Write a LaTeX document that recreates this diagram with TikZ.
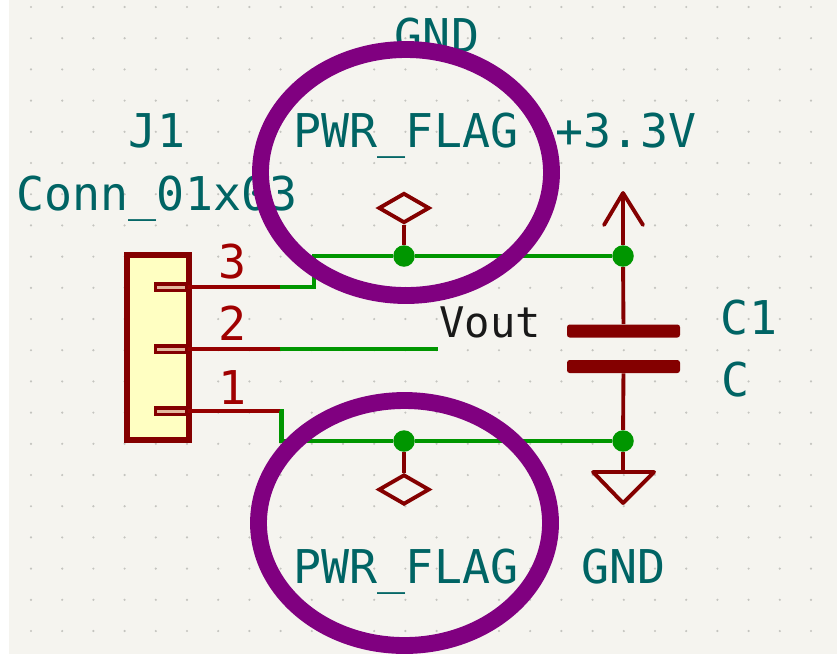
\documentclass[tikz,border=0pt]{standalone}
\usepackage{fontspec}
\setmonofont{DejaVu Sans Mono}
\usetikzlibrary{shapes.geometric}
\definecolor{sheet}{HTML}{F5F4EF}
\definecolor{griddot}{HTML}{C4C4BF}
\definecolor{symbolred}{HTML}{840000}
\definecolor{pinred}{HTML}{A00000}
\definecolor{wiregreen}{HTML}{009600}
\definecolor{fieldteal}{HTML}{006464}
\definecolor{bodyfill}{HTML}{FFFFC2}
\definecolor{ringpurple}{HTML}{800080}
\tikzset{
  wire/.style={draw=wiregreen, line width=2.3pt},
  symline/.style={draw=symbolred, line width=2.2pt},
  junction/.style={circle, fill=wiregreen, inner sep=0pt, minimum size=0.43cm},
  flagmark/.style={diamond, symline, inner sep=0pt, shape aspect=1.7, minimum width=1.02cm, minimum height=0.6cm},
  plate/.style={rectangle, fill=symbolred, rounded corners=1.5pt, inner sep=0pt, minimum width=2.26cm, minimum height=0.26cm},
  field/.style={text=fieldteal, inner sep=0pt, anchor=base, font=\ttfamily\fontsize{26.5}{26.5}\selectfont},
  pinnum/.style={text=pinred, inner sep=0pt, anchor=base, font=\ttfamily\fontsize{26.5}{26.5}\selectfont},
  ring/.style={draw=ringpurple, line width=9.6pt},
}
\begin{document}
\begin{tikzpicture}[x=0.02cm,y=-0.02cm]
\useasboundingbox (0,0) rectangle (837,654);

% sheet and grid
\fill[white] (0,0) rectangle (9,654);
\fill[sheet] (9,0) rectangle (837,654);
\foreach \k in {0,...,25}
  \foreach \l in {0,...,20}
    \fill[griddot] ({31+31.2*\k},{7+31.2*\l}) circle (1.2);

% connector body
\node[rectangle, draw=symbolred, fill=bodyfill, line width=3.4pt, inner sep=0pt,
  minimum width=1.24cm, minimum height=3.7cm] (body) at (158,347.5) {};

% pins
\foreach \n/\y in {3/287,2/349,1/411} {
  \node[rectangle, draw=symbolred, fill=bodyfill!60!pinred!70!white, line width=2pt, inner sep=0pt,
    minimum width=0.62cm, minimum height=0.13cm] (pin\n) at (171,\y) {};
  \coordinate (end\n) at (280,\y);
  \draw[draw=pinred!60!symbolred, line width=2.3pt] (pin\n.east) -- (end\n);
}
\node[pinnum] (num3) at (233,278) {3};
\node[pinnum] (num2) at (233,340) {2};
\node[pinnum] (num1) at (233,404) {1};

% junctions and free ends of the wires
\node[junction] (jflagup) at (404,256) {};
\node[junction] (jpwr) at (623,256) {};
\node[junction] (jflagdown) at (404,441) {};
\node[junction] (jgnd) at (623,441) {};
\coordinate (cornerup) at (314,256);
\coordinate (cornerdown) at (281.5,441);
\coordinate (voutend) at (438,349);

% wires
\draw[wire] (end3) -| (cornerup) -- (jflagup) -- (jpwr);
\draw[wire] (end2) -- (voutend);
\draw[wire] (end1) -- ++(1.5,0) -- (cornerdown) -- (jflagdown) -- (jgnd);

% power flags
\node[flagmark] (flagup) at (404,208) {};
\node[flagmark] (flagdown) at (404,489.5) {};
\draw[symline] (jflagup) -- (flagup);
\draw[symline] (jflagdown) -- (flagdown);

% capacitor
\node[plate] (plateup) at (623.5,331) {};
\node[plate] (platedown) at (623.5,366.5) {};
\draw[symline] (jpwr) -- (plateup);
\draw[symline] (platedown) -- (jgnd);

% +3.3V arrow
\coordinate (pwrtop) at (623,193);
\coordinate (pwrleft) at (604,225);
\coordinate (pwrright) at (643,225);
\draw[symline] (jpwr) -- (pwrtop);
\draw[symline, line cap=round, line join=round] (pwrleft) -- (pwrtop) -- (pwrright);

% ground triangle
\coordinate (gndtop) at (623,472);
\coordinate (gndleft) at (593,472);
\coordinate (gndright) at (654,472);
\coordinate (gndtip) at (623,503);
\draw[symline] (jgnd) -- (gndtop);
\draw[symline, line join=round] (gndleft) -- (gndright) -- (gndtip) -- cycle;

% texts
\node[field] (refj) at (157,147) {J1};
\node[field] (valj) at (157,210) {Conn\_01x03};
\node[field] (gndup) at (437,52) {GND};
\node[field] (flagup text) at (406,147) {PWR\_FLAG};
\node[field] (pwr) at (626,147) {+3.3V};
\node[text=black!90, inner sep=0pt, anchor=base, font=\ttfamily\fontsize{24}{24}\selectfont] (vout) at (490,337) {Vout};
\node[field] (refc) at (749,334) {C1};
\node[field] (valc) at (735,396) {C};
\node[field] (flagdown text) at (406,583) {PWR\_FLAG};
\node[field] (gnddown) at (623.5,583) {GND};

% rings
\draw[ring] (406,172.5) ellipse (145.5 and 123);
\draw[ring] (404.5,523) ellipse (146 and 122.5);

\end{tikzpicture}
\end{document}
